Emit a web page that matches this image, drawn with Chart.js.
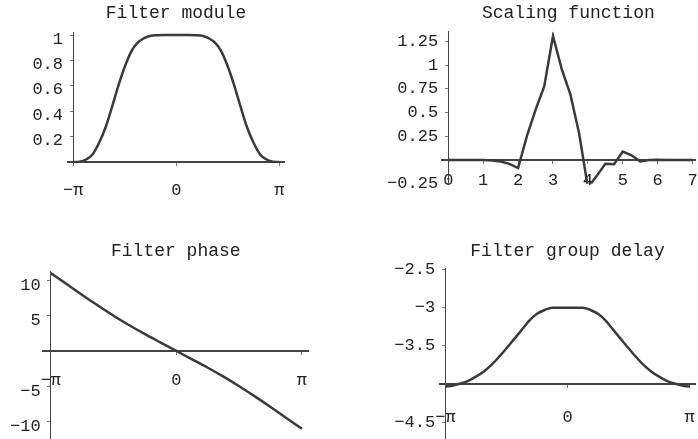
<!DOCTYPE html>
<html>
<head>
<title>Filter plots</title>
<script src="https://cdn.jsdelivr.net/npm/chart.js"></script>
<style>
  body { margin: 0; background: #fff; }
  #page { position: relative; width: 698px; height: 439px; overflow: hidden; background: #fff; }
  canvas { position: absolute; }
</style>
</head>
<body>
<div id="page">
  <canvas id="module" width="349" height="222" style="left:0;top:0"></canvas>
  <canvas id="scaling" width="380" height="222" style="left:349px;top:0"></canvas>
  <canvas id="phase" width="349" height="245" style="left:0;top:222px"></canvas>
  <canvas id="delay" width="380" height="245" style="left:349px;top:222px"></canvas>
</div>
<script>
// frequency grids (radians)
const omega16 = [-3.142, -2.945, -2.749, -2.553, -2.356, -2.160, -1.963, -1.767, -1.571, -1.374, -1.178, -0.982, -0.785, -0.589, -0.393, -0.196, 0,
  0.196, 0.393, 0.589, 0.785, 0.982, 1.178, 1.374, 1.571, 1.767, 1.963, 2.160, 2.356, 2.553, 2.749, 2.945, 3.142];
const omega8 = [-3.142, -2.749, -2.356, -1.963, -1.571, -1.178, -0.785, -0.393, 0, 0.393, 0.785, 1.178, 1.571, 1.963, 2.356, 2.749, 3.142];

const moduleValues = [0, 0.003, 0.02, 0.06, 0.15, 0.27, 0.43, 0.6, 0.75, 0.87, 0.94, 0.975, 0.995, 0.999, 1, 1, 1,
  1, 1, 0.999, 0.995, 0.975, 0.94, 0.87, 0.75, 0.6, 0.43, 0.27, 0.15, 0.06, 0.02, 0.003, 0];
const phaseValues = [11.0, 9.47, 7.92, 6.42, 4.98, 3.63, 2.37, 1.18, 0, -1.18, -2.37, -3.63, -4.98, -6.42, -7.92, -9.47, -11.0];
const delayValues = [-4.03, -4.015, -3.99, -3.955, -3.9, -3.835, -3.75, -3.645, -3.53, -3.41, -3.29, -3.17, -3.08, -3.03, -3.0, -3.0, -3.0,
  -3.0, -3.0, -3.03, -3.08, -3.17, -3.29, -3.41, -3.53, -3.645, -3.75, -3.835, -3.9, -3.955, -3.99, -4.015, -4.03];

const scalingT = [0, 0.25, 0.5, 0.75, 1, 1.25, 1.5, 1.75, 2, 2.25, 2.5, 2.75, 3, 3.25, 3.5, 3.75, 4, 4.25, 4.5, 4.75, 5, 5.25, 5.5, 5.75, 6, 6.25, 6.5, 6.75, 7];
const scalingValues = [0, 0, 0, 0, 0, -0.005, -0.015, -0.04, -0.085, 0.25, 0.53, 0.78, 1.31, 0.96, 0.69, 0.28, -0.29, -0.17, -0.04, -0.045, 0.09, 0.05, -0.015, 0, 0.003, 0, 0, 0, 0];

// tick marks and labels
const piTicks = [-Math.PI, 0, Math.PI];
const piLabels = ['−π', '0', 'π'];
const scalingXTicks = [0, 1, 2, 3, 4, 5, 6, 7];
const moduleYTicks = [0.2, 0.4, 0.6, 0.8, 1];
const scalingYTicks = [-0.25, 0.25, 0.5, 0.75, 1, 1.25];
const phaseYTicks = [-10, -5, 5, 10];
const delayYTicks = [-4.5, -3.5, -3, -2.5];

const FONT = 'Liberation Mono';

// y labels sit right-aligned on the axis itself, the trailing space keeps them off it
function fmt(v) {
  return String(v).replace('-', '−') + ' ';
}

function panel(id, p) {
  const tickFont = { family: FONT, size: 17 };
  return new Chart(document.getElementById(id), {
    type: 'line',
    data: {
      datasets: [{
        data: p.xs.map((x, i) => ({ x: x, y: p.ys[i] })),
        borderColor: '#3a3a3a',
        borderWidth: 2.5,
        pointRadius: 0,
        tension: p.smooth ? 0.4 : 0,
        cubicInterpolationMode: p.smooth ? 'monotone' : 'default'
      }]
    },
    options: {
      responsive: false,
      animation: false,
      devicePixelRatio: 1,
      layout: { padding: p.pad },
      plugins: {
        legend: { display: false },
        tooltip: { enabled: false },
        title: {
          display: true, text: p.title, fullSize: false, color: '#222',
          font: { family: FONT, size: 18, weight: 'normal' },
          padding: p.titlePad
        }
      },
      scales: {
        x: {
          type: 'linear', min: p.xRange[0], max: p.xRange[1],
          position: { y: p.xAxisAt },
          afterBuildTicks: s => { s.ticks = p.xTicks.map(v => ({ value: v })); },
          ticks: { font: tickFont, color: '#222', padding: p.xLabelPad, maxRotation: 0, autoSkip: false,
                   callback: (v, i) => p.xLabels[i] },
          grid: { drawOnChartArea: false, tickLength: 3, color: '#777' },
          border: { color: '#444', width: 2 }
        },
        y: {
          type: 'linear', min: p.yRange[0], max: p.yRange[1],
          position: { x: p.yAxisAt },
          afterBuildTicks: s => { s.ticks = p.yTicks.map(v => ({ value: v })); },
          ticks: { font: tickFont, color: '#222', padding: 6, labelOffset: p.yLabelOffset, autoSkip: false,
                   callback: v => fmt(v) },
          grid: { drawOnChartArea: false, tickLength: 3, color: '#777' },
          border: { color: '#444', width: 1 }
        }
      }
    }
  });
}

panel('module', {
  title: 'Filter module', xs: omega16, ys: moduleValues, smooth: true,
  xRange: [-3.3, 3.28], yRange: [-0.01, 1.02], xAxisAt: 0, yAxisAt: -Math.PI,
  xTicks: piTicks, xLabels: piLabels, yTicks: moduleYTicks,
  xLabelPad: 14.8, yLabelOffset: 4,
  pad: { left: 68, right: 65, top: 0, bottom: 58.7 }, titlePad: { top: 2.5, bottom: 8.4 }
});

panel('scaling', {
  title: 'Scaling function', xs: scalingT, ys: scalingValues, smooth: false,
  xRange: [-0.19, 7.07], yRange: [-0.25, 1.355], xAxisAt: 0, yAxisAt: 0,
  xTicks: scalingXTicks, xLabels: scalingXTicks.map(String), yTicks: scalingYTicks,
  xLabelPad: 6.8, yLabelOffset: 0,
  pad: { left: 92.7, right: 34, top: 0, bottom: 38.3 }, titlePad: { top: 2.7, bottom: 7.4 }
});

panel('phase', {
  title: 'Filter phase', xs: omega8, ys: phaseValues, smooth: true,
  xRange: [-3.33, 3.30], yRange: [-12.3, 11.2], xAxisAt: 0, yAxisAt: -Math.PI,
  xTicks: piTicks, xLabels: piLabels, yTicks: phaseYTicks,
  xLabelPad: 16.8, yLabelOffset: 5,
  pad: { left: 43.3, right: 40.7, top: 0, bottom: 29 }, titlePad: { top: 18.9, bottom: 9.2 }
});

panel('delay', {
  title: 'Filter group delay', xs: omega16, ys: delayValues, smooth: true,
  xRange: [-3.28, 3.28], yRange: [-4.714, -2.486], xAxisAt: -4, yAxisAt: -Math.PI,
  xTicks: piTicks, xLabels: piLabels, yTicks: delayYTicks,
  xLabelPad: 20.2, yLabelOffset: 0,
  pad: { left: 91, right: 34, top: 0, bottom: 28 }, titlePad: { top: 18.9, bottom: 5.8 }
});
</script>
</body>
</html>
